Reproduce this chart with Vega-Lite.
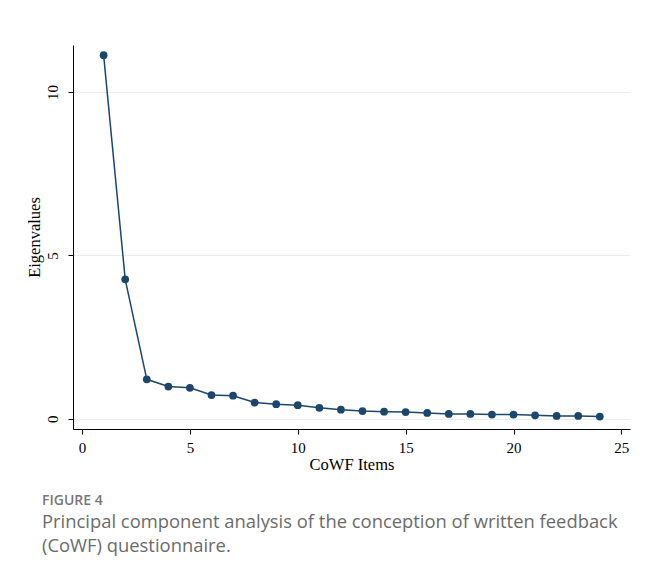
{
  "$schema": "https://vega.github.io/schema/vega-lite/v6.json",
  "autosize": {"type": "none"},
  "width": 557,
  "height": 384,
  "padding": {"left": 73, "top": 45, "right": 16, "bottom": 149},
  "background": "white",
  "title": {
    "text": "FIGURE 4",
    "subtitle": ["Principal component analysis of the conception of written feedback", "(CoWF) questionnaire."],
    "orient": "bottom",
    "anchor": "start",
    "frame": "group",
    "dx": -31,
    "offset": 21,
    "font": "Open Sans",
    "fontSize": 14,
    "fontWeight": 600,
    "color": "#777777",
    "subtitleFont": "Open Sans",
    "subtitleFontSize": 18.4,
    "subtitleColor": "#6b6b6b",
    "subtitleLineHeight": 24.5,
    "subtitlePadding": 5
  },
  "data": {
    "values": [
      {"item": 1, "eigenvalue": 11.13},
      {"item": 2, "eigenvalue": 4.27},
      {"item": 3, "eigenvalue": 1.21},
      {"item": 4, "eigenvalue": 0.99},
      {"item": 5, "eigenvalue": 0.95},
      {"item": 6, "eigenvalue": 0.73},
      {"item": 7, "eigenvalue": 0.71},
      {"item": 8, "eigenvalue": 0.5},
      {"item": 9, "eigenvalue": 0.45},
      {"item": 10, "eigenvalue": 0.42},
      {"item": 11, "eigenvalue": 0.34},
      {"item": 12, "eigenvalue": 0.28},
      {"item": 13, "eigenvalue": 0.24},
      {"item": 14, "eigenvalue": 0.22},
      {"item": 15, "eigenvalue": 0.21},
      {"item": 16, "eigenvalue": 0.18},
      {"item": 17, "eigenvalue": 0.15},
      {"item": 18, "eigenvalue": 0.15},
      {"item": 19, "eigenvalue": 0.13},
      {"item": 20, "eigenvalue": 0.13},
      {"item": 21, "eigenvalue": 0.11},
      {"item": 22, "eigenvalue": 0.09},
      {"item": 23, "eigenvalue": 0.09},
      {"item": 24, "eigenvalue": 0.07}
    ]
  },
  "encoding": {
    "x": {
      "field": "item",
      "type": "quantitative",
      "scale": {"domain": [-0.42, 25.4], "nice": false, "zero": false},
      "axis": {
        "title": "CoWF Items",
        "values": [0, 5, 10, 15, 20, 25],
        "grid": false,
        "domainColor": "#000000",
        "domainWidth": 1,
        "tickColor": "#000000",
        "tickSize": 5,
        "labelFont": "Liberation Serif",
        "labelFontSize": 15,
        "labelColor": "#000000",
        "labelPadding": 6,
        "titleFont": "Liberation Serif",
        "titleFontSize": 16.5,
        "titleFontWeight": "normal",
        "titleColor": "#000000",
        "titlePadding": 1
      }
    },
    "y": {
      "field": "eigenvalue",
      "type": "quantitative",
      "scale": {"domain": [-0.31, 11.44], "nice": false, "zero": false},
      "axis": {
        "title": "Eigenvalues",
        "values": [0, 5, 10],
        "grid": true,
        "gridColor": "#e6eef2",
        "gridWidth": 1,
        "domainColor": "#000000",
        "domainWidth": 1,
        "tickColor": "#000000",
        "tickSize": 5,
        "labelAngle": -90,
        "labelAlign": "center",
        "labelBaseline": "alphabetic",
        "labelFont": "Liberation Serif",
        "labelFontSize": 15,
        "labelColor": "#000000",
        "labelPadding": 11,
        "titleFont": "Liberation Serif",
        "titleFontSize": 16.5,
        "titleFontWeight": "normal",
        "titleColor": "#000000",
        "titlePadding": 3
      }
    }
  },
  "layer": [
    {"mark": {"type": "line", "color": "#1a476f", "strokeWidth": 1.5}},
    {"mark": {"type": "point", "filled": true, "color": "#1a476f", "opacity": 1, "size": 60}}
  ],
  "config": {"view": {"stroke": null}}
}
